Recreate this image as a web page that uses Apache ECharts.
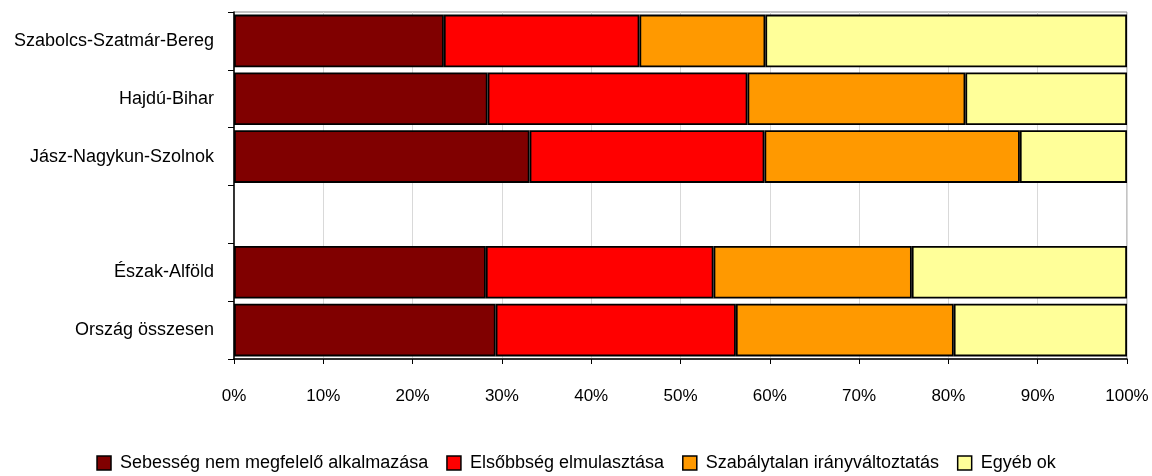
<!DOCTYPE html>
<html><head><meta charset="utf-8">
<script src="https://cdn.jsdelivr.net/npm/echarts@6/dist/echarts.min.js"></script>
<style>html,body{margin:0;padding:0;background:#fff}#c{width:1152px;height:476px}</style>
</head><body><div id="c"></div>
<script>
const categories = ['Szabolcs-Szatmár-Bereg','Hajdú-Bihar','Jász-Nagykun-Szolnok','','Észak-Alföld','Ország összesen'];
const seriesNames = ['Sebesség nem megfelelő alkalmazása','Elsőbbség elmulasztása','Szabálytalan irányváltoztatás','Egyéb ok'];
const sebesseg = [23.5, 28.4, 33.1, null, 28.2, 29.3];
const elsobbseg = [21.9, 29.1, 26.3, null, 25.5, 26.9];
const szabalytalan = [14.1, 24.4, 28.6, null, 22.2, 24.4];
const egyeb = [40.5, 18.1, 12.0, null, 24.1, 19.4];
const colors = ['#800000','#FF0000','#FF9900','#FFFF99'];
const allData = [sebesseg, elsobbseg, szabalytalan, egyeb];

const chart = echarts.init(document.getElementById('c'));
const font = '"Liberation Sans", Arial, sans-serif';
chart.setOption({
  animation: false,
  textStyle: {fontFamily: font},
  grid: {left: 234, right: 25, top: 12, bottom: 117, show: true, borderColor: '#888', borderWidth: 1, containLabel: false, outerBoundsMode: 'none'},
  xAxis: {
    type: 'value', min: 0, max: 100, interval: 10,
    axisLabel: {formatter: '{value}%', fontSize: 17, color: '#000', margin: 29, fontFamily: font},
    axisLine: {show: true, lineStyle: {color: '#000', width: 1.5}},
    axisTick: {show: true, length: 5, lineStyle: {color: '#000'}},
    splitLine: {show: true, lineStyle: {color: '#d9d9d9', width: 1}}
  },
  yAxis: {
    type: 'category', data: categories, inverse: true,
    axisLabel: {fontSize: 18, color: '#000', margin: 20, fontFamily: font},
    axisLine: {show: true, lineStyle: {color: '#000', width: 1.5}},
    axisTick: {show: true, length: 6, lineStyle: {color: '#000'}},
    splitLine: {show: false}
  },
  legend: {
    bottom: -1, left: 'center', itemWidth: 14, itemHeight: 14, itemGap: 18,
    textStyle: {fontSize: 18, color: '#000', fontFamily: font, padding: [0,0,0,4]},
    icon: 'rect',
    data: seriesNames.map((n, i) => ({name: n, itemStyle: {color: colors[i], borderColor: '#000', borderWidth: 1.5}}))
  },
  series: allData.map((d, i) => ({
    name: seriesNames[i], type: 'bar', stack: 'total', data: d,
    barCategoryGap: '9%',
    itemStyle: {color: colors[i], borderColor: '#000', borderWidth: 1.8}
  }))
});
</script></body></html>
